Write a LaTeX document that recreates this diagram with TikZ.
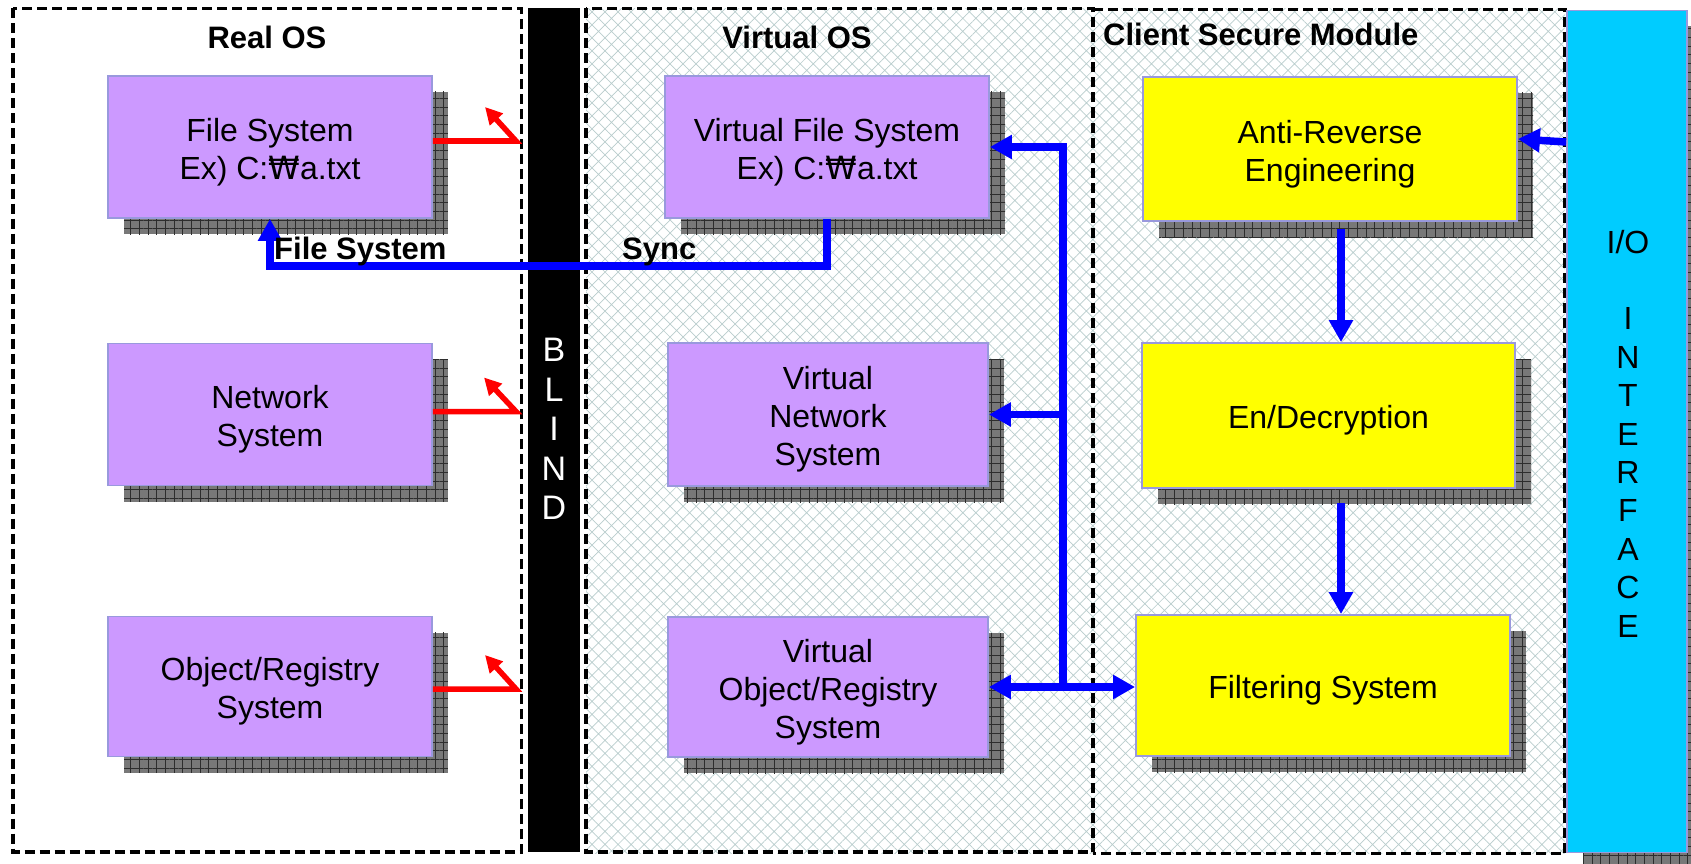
\documentclass[tikz,border=0pt]{standalone}
\usepackage{fontspec}
\setmainfont{Liberation Sans}
\newfontfamily\wonfont{DejaVu Sans}
\usetikzlibrary{arrows.meta,patterns.meta,shadows,calc}

\definecolor{boxpurple}{RGB}{204,153,255}
\definecolor{boxyellow}{RGB}{255,255,0}
\definecolor{iocyan}{RGB}{0,204,255}
\definecolor{boxedge}{RGB}{153,153,221}
\definecolor{shadowgray}{RGB}{120,120,120}
\definecolor{shadowgrid}{RGB}{45,45,45}
\definecolor{latticegray}{RGB}{185,205,205}
\definecolor{busblue}{RGB}{0,0,255}
\definecolor{alertred}{RGB}{255,0,0}

\newcommand{\won}{{\wonfont ₩}}

\begin{document}
\begin{tikzpicture}[x=1pt,y=-1pt,
  region/.style={draw=black,line width=3.5pt,dash pattern=on 10pt off 5pt},
  gridshadow/.style={
    general shadow={shadow xshift=16pt,shadow yshift=-16pt,fill=shadowgray},
    general shadow={shadow xshift=16pt,shadow yshift=-16pt,
      pattern={Hatch[angle=0,distance=8.7pt,line width=0.8pt]},pattern color=shadowgrid}},
  sysbox/.style={rectangle,draw=boxedge,line width=1.8pt,inner sep=0pt,gridshadow},
  osbox/.style={sysbox,fill=boxpurple},
  secbox/.style={sysbox,fill=boxyellow},
  boxtext/.style={align=center,font=\fontsize{32}{38}\selectfont,inner sep=0pt,yshift=-5pt},
  title/.style={font=\fontsize{31}{36}\selectfont\bfseries,inner sep=0pt},
  bus/.style={draw=busblue,line width=7.5pt,>={Triangle[length=22pt,width=23pt]}},
  alert/.style={draw=alertred,line width=5.5pt,>={Triangle[length=17pt,width=17pt]}}
]

\useasboundingbox (0,0) rectangle (1691,864);
\clip (0,0) rectangle (1691,864);
\fill[white] (0,0) rectangle (1691,864);

% lattice backdrop behind the virtual side
\fill[pattern={Hatch[angle=45,distance=9.2pt,line width=0.7pt]},pattern color=latticegray]
  (586,9) rectangle (1565,853);

% dashed areas and the blind wall
\draw[region] (13,8.5) rectangle (521.5,852);
\fill[black] (528,8.5) rectangle (580,852);
\draw[region] (586,8.5) rectangle (1093,852);
\draw[region] (1093,9.5) -- (1565,9.5) -- (1565,853.5) -- (1093,853.5);

% area titles
\node[title,anchor=base] (realT) at (267,49) {Real OS};
\node[title,anchor=base] (virtT) at (797,49) {Virtual OS};
\node[title,anchor=base west] (secT) at (1103,46) {Client Secure Module};

\node[align=center,text=white,font=\fontsize{34}{39.5}\selectfont,inner sep=0pt]
  (blind) at (554,429) {B\\L\\I\\N\\D};

% real OS components
\node[osbox,minimum width=324pt,minimum height=142pt] (FS) at (270,147) {};
\node[osbox,minimum width=324pt,minimum height=142pt] (NS) at (270,414.5) {};
\node[osbox,minimum width=324pt,minimum height=140pt] (OR) at (270,686.5) {};
\node[boxtext] (FSt) at (FS) {File System\\Ex) C:\won a.txt};
\node[boxtext] (NSt) at (NS) {Network\\System};
\node[boxtext] (ORt) at (OR) {Object/Registry\\System};

% virtual OS components
\node[osbox,minimum width=324pt,minimum height=142pt] (VFS) at (827,147) {};
\node[osbox,minimum width=320pt,minimum height=143pt] (VNS) at (828,414.5) {};
\node[osbox,minimum width=320pt,minimum height=140pt] (VOR) at (828,687) {};
\node[boxtext] (VFSt) at (VFS) {Virtual File System\\Ex) C:\won a.txt};
\node[boxtext] (VNSt) at (VNS) {Virtual\\Network\\System};
\node[boxtext] (VORt) at (VOR) {Virtual\\Object/Registry\\System};

% client secure module components
\node[secbox,minimum width=374pt,minimum height=144pt] (AR) at (1330,149) {};
\node[secbox,minimum width=373pt,minimum height=145pt] (ED) at (1328.5,415.5) {};
\node[secbox,minimum width=374pt,minimum height=141pt] (FLT) at (1323,685.5) {};
\node[boxtext] (ARt) at (AR) {Anti-Reverse\\Engineering};
\node[boxtext] (EDt) at (ED) {En/Decryption};
\node[boxtext] (FLTt) at (FLT) {Filtering System};

% I/O interface column
\node[sysbox,fill=iocyan,minimum width=120pt,minimum height=842pt] (IO) at (1627,431.5) {};
\node[align=center,font=\fontsize{32}{38.4}\selectfont,inner sep=0pt]
  (IOt) at (1628,433.4) {I/O\\[38.4pt]I\\N\\T\\E\\R\\F\\A\\C\\E};

% blocked accesses towards the blind wall
\coordinate (fsR) at (516,141);   \coordinate (fsTip) at (485,107);
\coordinate (nsR) at (516,411.5); \coordinate (nsTip) at (484,377.5);
\coordinate (orR) at (516,689);   \coordinate (orTip) at (485,655);
\draw[alert,->] (FS.east |- fsR) -- (fsR) -- (fsTip);
\draw[alert,->] (NS.east |- nsR) -- (nsR) -- (nsTip);
\draw[alert,->] (OR.east |- orR) -- (orR) -- (orTip);

% file system sync
\coordinate (syncA) at (827,266);
\coordinate (syncB) at (270,266);
\draw[bus,->] (VFS.south -| syncA) -- (syncA) -- (syncB) -- (FS.south -| syncB);

% virtual OS bus
\coordinate (busX) at (1063,0);
\draw[bus,<->] (VFS.east) -- (VFS.east -| busX) -- (VOR.east -| busX) -- (VOR.east);
\draw[bus,->] (VNS.east -| busX) -- (VNS.east);
\draw[bus,->] (VOR.east -| busX) -- (FLT.west |- VOR.east);

% secure module chain
\coordinate (chainX) at (1341,0);
\draw[bus,->,shorten <=7pt] (AR.south -| chainX) -- (ED.north -| chainX);
\draw[bus,->,shorten <=14pt] (ED.south -| chainX) -- (FLT.north -| chainX);
\coordinate (ioA) at (1566,142);
\coordinate (arA) at (1518,139);
\draw[bus,->] (IO.west |- ioA) -- (AR.east |- arA);

% connector labels
\node[title,anchor=base west] (fsL) at (274,259) {File System};
\node[title,anchor=base west] (syncL) at (622,259) {Sync};

\end{tikzpicture}
\end{document}
